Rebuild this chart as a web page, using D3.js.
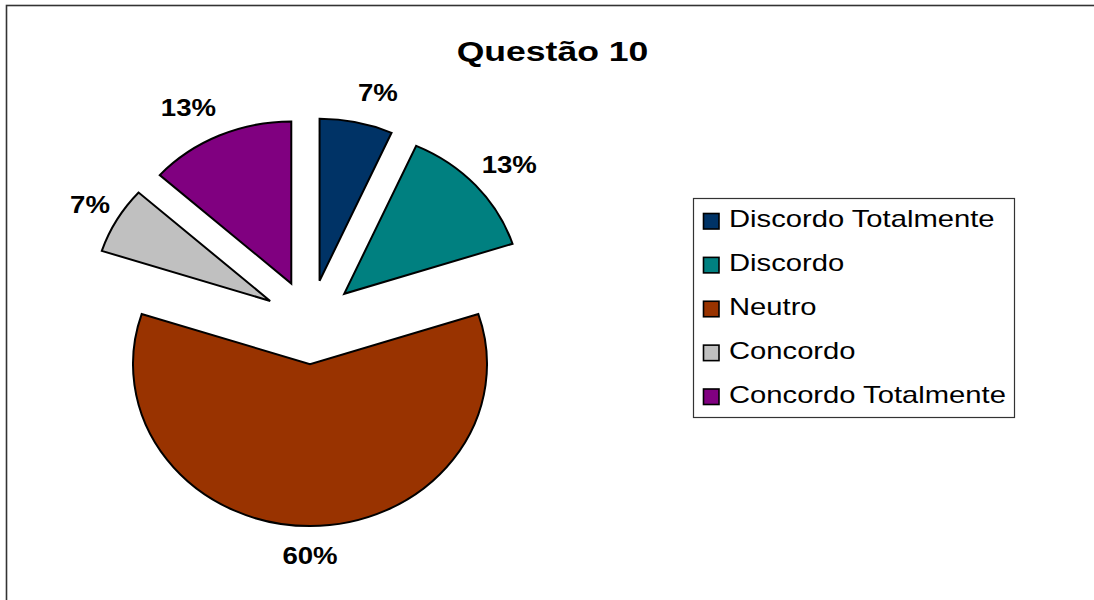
<!DOCTYPE html>
<html>
<head>
<meta charset="utf-8">
<script src="https://cdn.jsdelivr.net/npm/d3@7"></script>
<style>
  html, body { margin: 0; padding: 0; background: #fff; }
  svg { display: block; }
</style>
</head>
<body>
<svg id="chart" width="1094" height="600"></svg>
<script>
// Survey answers for question 10 (15 respondents)
const categories = ["Discordo Totalmente", "Discordo", "Neutro", "Concordo", "Concordo Totalmente"];
const counts = [1, 2, 9, 1, 2];
const colors = ["#003366", "#008080", "#993300", "#C0C0C0", "#800080"];
const title = "Questão 10";

const svg = d3.select("#chart");
const font = "'Liberation Sans', Arial, sans-serif";

// chart frame
svg.append("rect")
  .attr("x", 6.5).attr("y", 5.5)
  .attr("width", 1110).attr("height", 620)
  .attr("fill", "#fff")
  .attr("stroke", "#333").attr("stroke-width", 1.6);

// title
svg.append("g")
  .attr("transform", "translate(552.5,60.5) scale(1.27,1)")
  .append("text")
  .attr("text-anchor", "middle")
  .attr("font-family", font)
  .attr("font-weight", "bold")
  .attr("font-size", 28)
  .text(title);

// pie geometry: circle of radius R, stretched horizontally into an ellipse
const cx = 310, cy = 322;
const R = 162;
const sx = 177 / 162;
const explode = 0.26 * R;

const pie = d3.pie().sort(null).value(d => d).startAngle(0).endAngle(2 * Math.PI);
const arcs = pie(counts);
const arc = d3.arc().innerRadius(0).outerRadius(R);

const total = d3.sum(counts);
const pct = d3.format(".0%");

const pieG = svg.append("g")
  .attr("transform", `translate(${cx},${cy}) scale(${sx},1)`);

pieG.selectAll("path")
  .data(arcs)
  .join("path")
  .attr("transform", d => {
    const a = (d.startAngle + d.endAngle) / 2;
    return `translate(${explode * Math.sin(a)},${-explode * Math.cos(a)})`;
  })
  .attr("d", arc)
  .attr("fill", (d, i) => colors[i])
  .attr("stroke", "#000")
  .attr("stroke-width", 2)
  .attr("stroke-linejoin", "miter")
  .attr("vector-effect", "non-scaling-stroke");

// percentage labels outside each exploded slice
arcs.forEach((d, i) => {
  const a = (d.startAngle + d.endAngle) / 2;
  const s = Math.sin(a), c = Math.cos(a);
  const ox = cx + sx * (explode + R) * s;
  const oy = cy - (explode + R) * c;
  const x = ox + 8 * s;
  const y = oy - 30 * c + 8;
  const anchor = s > 0.1 ? "start" : (s < -0.1 ? "end" : "middle");
  svg.append("g")
    .attr("transform", `translate(${x},${y}) scale(1.2,1)`)
    .append("text")
    .attr("text-anchor", anchor)
    .attr("font-family", font)
    .attr("font-weight", "bold")
    .attr("font-size", 23)
    .text(pct(counts[i] / total));
});

// legend
const legend = svg.append("g").attr("transform", "translate(693.5,198.5)");
legend.append("rect")
  .attr("width", 321).attr("height", 219)
  .attr("fill", "#fff")
  .attr("stroke", "#333").attr("stroke-width", 1.2);

const rowY = d3.scalePoint().domain(categories).range([22.5, 198]);

const items = legend.selectAll("g.item")
  .data(categories)
  .join("g")
  .attr("class", "item")
  .attr("transform", d => `translate(0,${rowY(d)})`);

items.append("rect")
  .attr("x", 10).attr("y", -7.5)
  .attr("width", 15.5).attr("height", 15.5)
  .attr("fill", (d, i) => colors[i])
  .attr("stroke", "#000").attr("stroke-width", 1.6);

items.append("g")
  .attr("transform", "translate(35.5,6) scale(1.27,1)")
  .append("text")
  .attr("font-family", font)
  .attr("font-size", 23)
  .attr("fill", "#000")
  .text(d => d);
</script>
</body>
</html>
